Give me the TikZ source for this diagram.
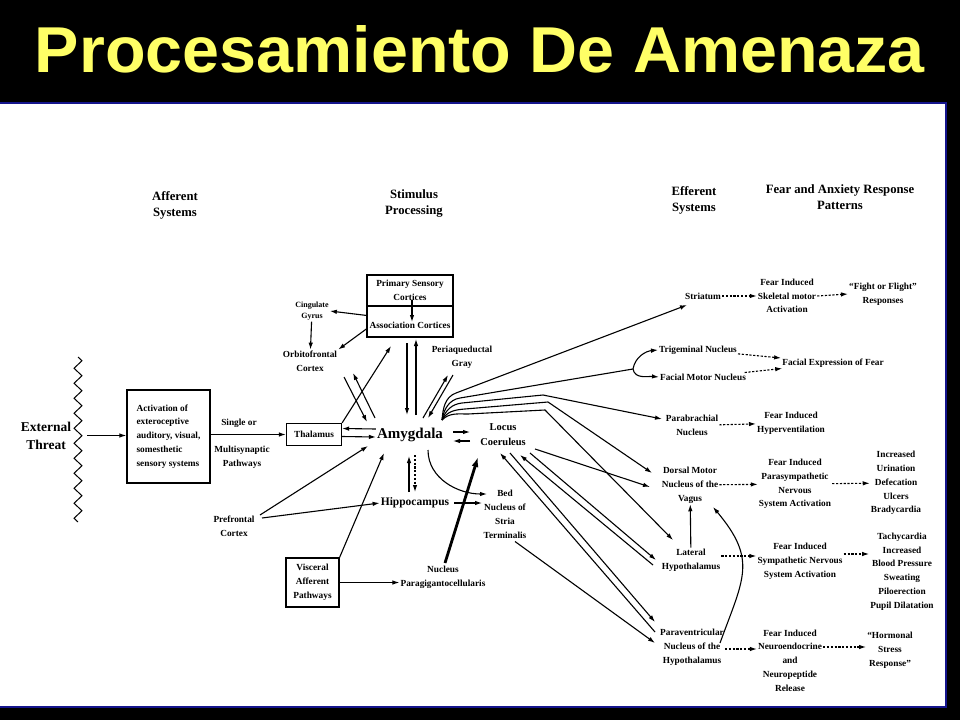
\documentclass[tikz,border=0pt]{standalone}
\usepackage{fontspec}
\setmainfont{Liberation Serif}
\newfontfamily\titlefont{Liberation Sans}
\usetikzlibrary{arrows.meta,decorations.pathmorphing}
\definecolor{titleyellow}{RGB}{255,255,102}
\definecolor{framenavy}{RGB}{20,20,140}
\begin{document}
\begin{tikzpicture}[x=1pt, y=-1pt,
    lbl/.style={align=center, inner sep=1pt, font=\bfseries\fontsize{9.3}{13.8}\selectfont},
    tinylbl/.style={lbl, font=\bfseries\fontsize{8}{11.5}\selectfont},
    hdr/.style={align=center, inner sep=1pt, font=\bfseries\fontsize{12.7}{16}\selectfont},
    biglbl/.style={align=center, inner sep=1pt, font=\bfseries\fontsize{15}{18}\selectfont},
    boxnode/.style={lbl, draw, line width=1.2pt},
    conn/.style={line width=1.1pt},
    arr/.style={conn, -{Latex[length=7pt,width=4.5pt]}},
    dasharr/.style={arr, dash pattern=on 2.2pt off 1.6pt},
    heavyarr/.style={line width=2.8pt, -{Latex[length=10pt,width=7pt]}}]

    \useasboundingbox (0,0) rectangle (960,720);
    \fill[black] (0,0) rectangle (960,720);
    \fill[white] (0,103) rectangle (946,707);
    \draw[framenavy, line width=1.5pt] (0,103) -- (946,103) -- (946,707) -- (0,707);

    \node[inner sep=0pt, text=titleyellow] (title) at (480,49.5)
        {\resizebox{890pt}{47pt}{\titlefont\bfseries Procesamiento De Amenaza}};

    \node[hdr] (afferent) at (175,205) {Afferent\\Systems};
    \node[hdr] (stimulus) at (414,203) {Stimulus\\Processing};
    \node[hdr] (efferent) at (694,200) {Efferent\\Systems};
    \node[hdr] (patterns) at (840,197) {Fear and Anxiety Response\\Patterns};

    \node[biglbl, font=\bfseries\fontsize{13.5}{18}\selectfont] (threat) at (46,435.5) {External\\Threat};
    \coordinate (waveTop) at (78,357);
    \coordinate (waveBot) at (78,522);
    \draw[line width=1pt, decorate, decoration={zigzag, amplitude=4pt, segment length=15pt}] (waveTop) -- (waveBot);

    \node[boxnode, align=left, minimum width=83pt, minimum height=93pt] (act) at (168.5,436.5)
        {Activation of\\exteroceptive\\auditory, visual,\\somesthetic\\sensory systems};
    \node[lbl] (single) at (239,423) {Single or};
    \node[lbl] (multi) at (242,457) {Multisynaptic\\Pathways};
    \node[boxnode, minimum width=55pt, minimum height=22pt] (thal) at (314,434.5) {Thalamus};
    \node[biglbl] (amyg) at (410,435) {Amygdala};
    \node[boxnode, minimum width=86pt, minimum height=31pt] (prim) at (410,290.5) {Primary Sensory\\Cortices};
    \node[boxnode, minimum width=86pt, minimum height=31pt, text height=14pt] (assoc) at (410,321.5) {Association Cortices};
    \node[tinylbl] (cing) at (312,311) {Cingulate\\Gyrus};
    \node[lbl] (orbit) at (310,361) {Orbitofrontal\\Cortex};
    \node[lbl] (pag) at (462,357) {Periaqueductal\\Gray};
    \node[lbl, font=\bfseries\fontsize{10.5}{15}\selectfont] (locus) at (503,435) {Locus\\Coeruleus};
    \node[lbl, font=\bfseries\fontsize{11.5}{14}\selectfont] (hippo) at (415,503) {Hippocampus};
    \node[lbl] (bed) at (505,514.5) {Bed\\Nucleus of\\Stria\\Terminalis};
    \node[lbl] (pref) at (234,526) {Prefrontal\\Cortex};
    \node[boxnode, minimum width=53pt, minimum height=49pt] (visc) at (312.5,582.5) {Visceral\\Afferent\\Pathways};
    \node[lbl] (npg) at (443,577.5) {Nucleus\\Paragigantocellularis};

    \node[lbl] (str) at (703,296) {Striatum};
    \node[lbl] (skel) at (787,296) {Fear Induced\\Skeletal motor\\Activation};
    \node[lbl] (fight) at (883,294) {``Fight or Flight''\\Responses};
    \node[lbl] (trig) at (698,350) {Trigeminal Nucleus};
    \node[lbl] (facmot) at (703,377) {Facial Motor Nucleus};
    \node[lbl] (facexp) at (833,363) {Facial Expression of Fear};
    \node[lbl] (parab) at (692,425.5) {Parabrachial\\Nucleus};
    \node[lbl] (hypvent) at (791,423) {Fear Induced\\Hyperventilation};
    \node[lbl] (dorsal) at (690,485) {Dorsal Motor\\Nucleus of the\\Vagus};
    \node[lbl] (parasym) at (795,484) {Fear Induced\\Parasympathetic\\Nervous\\System Activation};
    \node[lbl] (urin) at (896,483) {Increased\\Urination\\Defecation\\Ulcers\\Bradycardia};
    \node[lbl] (lateral) at (691,560) {Lateral\\Hypothalamus};
    \node[lbl] (sympa) at (800,561) {Fear Induced\\Sympathetic Nervous\\System Activation};
    \node[lbl] (tachy) at (902,571.5) {Tachycardia\\Increased\\Blood Pressure\\Sweating\\Piloerection\\Pupil Dilatation};
    \node[lbl] (pvn) at (692,647) {Paraventricular\\Nucleus of the\\Hypothalamus};
    \node[lbl] (neuro) at (790,660.5) {Fear Induced\\Neuroendocrine\\and\\Neuropeptide\\Release};
    \node[lbl] (hormone) at (890,650.5) {``Hormonal\\Stress\\Response''};

    \draw[arr] ([xshift=15pt]threat.east) -- (act.west |- threat.east);
    \draw[arr] (act.east |- thal.west) -- (thal.west);
    \draw[arr] ([yshift=6pt]amyg.west) -- ([yshift=6pt]thal.east);
    \draw[arr] ([yshift=-2pt]thal.east) -- ([yshift=-2pt]amyg.west);
    \draw[arr] (thal.north east) -- ([shift={(-19,24.5)}]assoc.center);
    \draw[arr] ([shift={(-43,-6)}]assoc.center) -- (cing.east);
    \draw[arr] ([shift={(-43,7)}]assoc.center) -- (orbit.north east);
    \draw[arr] (cing) -- (orbit);
    \draw[arr] ([shift={(2,9.5)}]prim.center) -- ([shift={(2,0.5)}]assoc.center);
    \draw[arr] ([shift={(-3,21.5)}]assoc.center) -- ([shift={(-3,-20)}]amyg.center);
    \draw[arr] ([shift={(6,-20)}]amyg.center) -- ([shift={(6,17.5)}]assoc.center);
    \draw[arr] ([shift={(34,16)}]orbit.center) -- ([shift={(-43,-13)}]amyg.center);
    \draw[arr] ([shift={(-35,-17)}]amyg.center) -- ([shift={(43,12)}]orbit.center);
    \draw[arr] ([shift={(13,-17)}]amyg.center) -- ([shift={(-14,18)}]pag.center);
    \draw[arr] ([shift={(-9,18)}]pag.center) -- ([shift={(18,-17)}]amyg.center);
    \draw[arr] ([shift={(43,-3)}]amyg.center) -- ([shift={(-33,-3)}]locus.center);
    \draw[arr] ([shift={(-33,6)}]locus.center) -- ([shift={(43,6)}]amyg.center);
    \draw[arr] ([shift={(-6,-11)}]hippo.center) -- ([shift={(-1,21)}]amyg.center);
    \draw[dasharr] ([shift={(5,20)}]amyg.center) -- ([shift={(0,-11)}]hippo.center);
    \draw[arr] ([shift={(26,-11)}]pref.center) -- ([shift={(-42,11)}]amyg.center);
    \draw[arr] ([shift={(28,-8)}]pref.center) -- (hippo.west);
    \draw[arr] (visc.north east) -- ([shift={(-26,18)}]amyg.center);
    \draw[arr] (visc.east) -- (visc.east -| npg.west);
    \draw[heavyarr] ([shift={(2,-14.5)}]npg.center) -- ([shift={(-25,22)}]locus.center);
    \draw[arr] ([shift={(18,15)}]amyg.center) to[out=-90, in=180] ([shift={(-18,-20.5)}]bed.center);
    \draw[arr] ([xshift=4pt]hippo.east) -- ([shift={(-23,-11.5)}]bed.center);
    \draw[arr] ([shift={(10,27)}]bed.center) -- ([shift={(-37,-4)}]pvn.center);

    \coordinate (fan) at ([shift={(32,-15)}]amyg.center);
    \coordinate (split) at (633,369);
    \draw[arr] (fan) to[out=85, in=200] ++(14,-27) -- ([shift={(-16,9)}]str.center);
    \draw[conn] (fan) to[out=80, in=189] ++(18,-22) -- (split);
    \draw[arr] (split) to[out=80, in=185] (trig.west);
    \draw[arr] (split) to[out=-80, in=175] (facmot.west);
    \draw[arr] (fan) to[out=70, in=186] ++(20,-17) -- ++(81,-8) -- ([shift={(-30,-6.5)}]parab.center);
    \draw[arr] (fan) to[out=60, in=184] ++(23,-11) -- ++(83,-7) -- ([shift={(-38,-12)}]dorsal.center);
    \draw[arr] (fan) to[out=45, in=180] ++(26,-6) -- ++(77,-4) -- ([shift={(-18,-20)}]lateral.center);

    \draw[arr] ([shift={(32,14)}]locus.center) -- ([shift={(-40,2)}]dorsal.center);
    \draw[arr] ([shift={(27,18)}]locus.center) -- ([shift={(-35,0)}]lateral.center);
    \draw[arr] ([shift={(-38,5)}]lateral.center) -- ([shift={(17,20)}]locus.center);
    \draw[arr] ([shift={(7,18)}]locus.center) -- ([shift={(-37,-25)}]pvn.center);
    \draw[arr] ([shift={(-37,-15)}]pvn.center) -- ([shift={(-3,18)}]locus.center);

    \draw[dasharr] (str) -- (skel);
    \draw[dasharr] (skel.east) -- (fight.west);
    \draw[dasharr] (trig) -- (facexp);
    \draw[dasharr] (facmot) -- (facexp);
    \draw[dasharr] (parab) -- (hypvent);
    \draw[dasharr] (dorsal) -- (parasym);
    \draw[dasharr] (parasym) -- (urin);
    \draw[arr] (lateral) -- (dorsal);
    \draw[dasharr] ([yshift=4pt]lateral.east) -- ([yshift=5pt]sympa.west);
    \draw[dasharr] ([yshift=7pt]sympa.east) -- ([yshift=17.5pt]tachy.west);
    \draw[arr] ([shift={(28,-4)}]pvn.center) to[out=70, in=-50, looseness=1.3] ([shift={(23,22)}]dorsal.center);
    \draw[dasharr] ([yshift=-2pt]pvn.east) -- ([yshift=11.5pt]neuro.west);
    \draw[dasharr] ([yshift=13.5pt]neuro.east) -- ([yshift=3.5pt]hormone.west);
\end{tikzpicture}
\end{document}
